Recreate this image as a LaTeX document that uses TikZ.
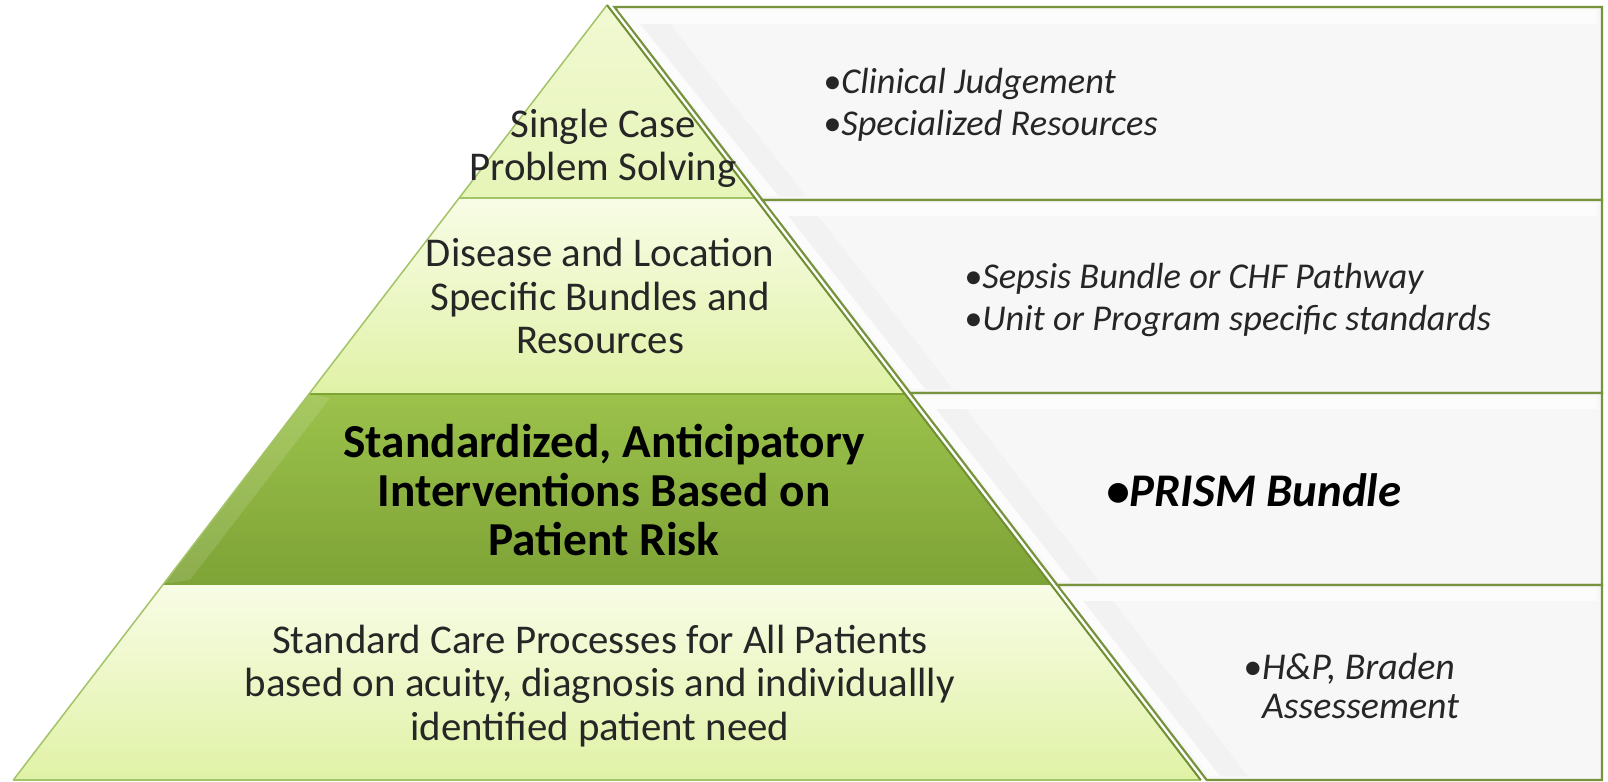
\documentclass[tikz,border=0pt]{standalone}
\usepackage{fontspec}
\setmainfont{Carlito}
\definecolor{panelline}{HTML}{77933C}
\definecolor{panelfill}{HTML}{F7F7F8}
\definecolor{lighttop}{HTML}{F8FCE6}
\definecolor{lightbot}{HTML}{E0F2A6}
\definecolor{toptop}{HTML}{F1F9D2}
\definecolor{darktop}{HTML}{9CC24C}
\definecolor{darkbot}{HTML}{7EA336}
\definecolor{pyrline}{HTML}{A3C466}
\definecolor{pyrdark}{HTML}{6F8F33}
\definecolor{txt}{HTML}{262626}
\tikzset{
  panel/.style={fill=panelfill, draw=panelline, line width=2.2bp, line join=miter},
  lightrow/.style={top color=lighttop, bottom color=lightbot},
  darkrow/.style={top color=darktop, bottom color=darkbot},
  rowline/.style={draw=pyrline, line width=1.5bp},
  sideline/.style={draw=pyrdark, line width=2bp},
  ptext/.style={align=center, text=txt, font=\fontsize{41}{43.5}\selectfont},
  btext/.style={align=center, text=black, font=\bfseries\fontsize{47.5}{49}\selectfont},
  rtext/.style={align=left, anchor=west, text=txt, inner sep=0pt, font=\itshape\fontsize{36.5}{42}\selectfont},
  whiteband/.style={fill=white, opacity=0.75},
  shadowband/.style={fill=black, opacity=0.018}
}
\begin{document}
\begin{tikzpicture}[x=1bp,y=-1bp]
\useasboundingbox (0,0) rectangle (1608,782);
\fill[white] (0,0) rectangle (1608,782);

% right panels
\path[panel] (614.5,7) -- (1602,7) -- (1602,200) -- (762.4,200) -- cycle;
\path[panel] (762.4,200) -- (1602,200) -- (1602,393) -- (910.2,393) -- cycle;
\path[panel] (910.2,393) -- (1602,393) -- (1602,585) -- (1057.3,585) -- cycle;
\path[panel] (1057.3,585) -- (1602,585) -- (1602,780) -- (1206.7,780) -- cycle;
% white bevel strip along panel left and top edges
\fill[whiteband] (618,10) -- (1597,10) -- (1597,24) -- (640,24) -- (778,196) -- (765,196) -- cycle;
\fill[whiteband] (766,203) -- (1597,203) -- (1597,216) -- (788,216) -- (925,389) -- (913,389) -- cycle;
\fill[whiteband] (914,396) -- (1597,396) -- (1597,409) -- (936,409) -- (1071,581) -- (1060,581) -- cycle;
\fill[whiteband] (1061,588) -- (1597,588) -- (1597,601) -- (1083,601) -- (1220,776) -- (1209,776) -- cycle;
% soft shadow band
\fill[shadowband] (640,24) -- (670,24) -- (806,196) -- (778,196) -- cycle;
\fill[shadowband] (788,216) -- (818,216) -- (953,389) -- (925,389) -- cycle;
\fill[shadowband] (936,409) -- (966,409) -- (1099,581) -- (1071,581) -- cycle;
\fill[shadowband] (1083,601) -- (1113,601) -- (1248,776) -- (1220,776) -- cycle;

% pyramid rows
\shade[top color=toptop, bottom color=lightbot!80!white] (607,5) -- (754.8,198) -- (459.2,198) -- cycle;
\shade[lightrow] (459.2,198) -- (754.8,198) -- (904.9,394) -- (309.0,394) -- cycle;
\shade[darkrow] (309.0,394) -- (904.9,394) -- (1050.4,584) -- (163.5,584) -- cycle;
\shade[lightrow] (163.5,584) -- (1050.4,584) -- (1200.7,780) -- (13.3,780) -- cycle;
% highlight on dark row left edge
\fill[white, opacity=0.12] (309.0,394) -- (330,398) -- (190,580) -- (163.5,584) -- cycle;

% pyramid outlines
\draw[rowline] (459.2,198) -- (754.8,198);
\draw[draw=darkbot, line width=2bp] (309.0,394) -- (904.9,394);
\draw[draw=darkbot, line width=2bp] (163.5,584) -- (1050.4,584);
\draw[rowline] (13.3,780) -- (1200.7,780);
\draw[rowline] (607,5) -- (13.3,780);
\draw[sideline] (607,5) -- (1200.7,780);

% pyramid texts
\node[ptext] (t1) at (603,148) {Single Case\\Problem Solving};
\node[ptext] (t2) at (600,296) {Disease and Location\\Specific Bundles and\\Resources};
\node[btext] (t3) at (604,490) {Standardized, Anticipatory\\Interventions Based on\\Patient Risk};
\node[ptext] (t4) at (600,686) {Standard Care Processes for All Patients\\based on acuity, diagnosis and individuallly\\identified patient need};

% panel texts
\node[rtext] (r1) at (823,105) {•Clinical Judgement\\•Specialized Resources};
\node[rtext] (r2) at (964,300) {•Sepsis Bundle or CHF Pathway\\•Unit or Program specific standards};
\node[rtext, font=\bfseries\itshape\fontsize{47}{50}\selectfont, text=black] (r3) at (1106,490) {•PRISM Bundle};
\node[rtext, font=\itshape\fontsize{38}{38.5}\selectfont] (r4) at (1243,686) {•H\&P, Braden\\\hphantom{•}Assessement};
\end{tikzpicture}
\end{document}
